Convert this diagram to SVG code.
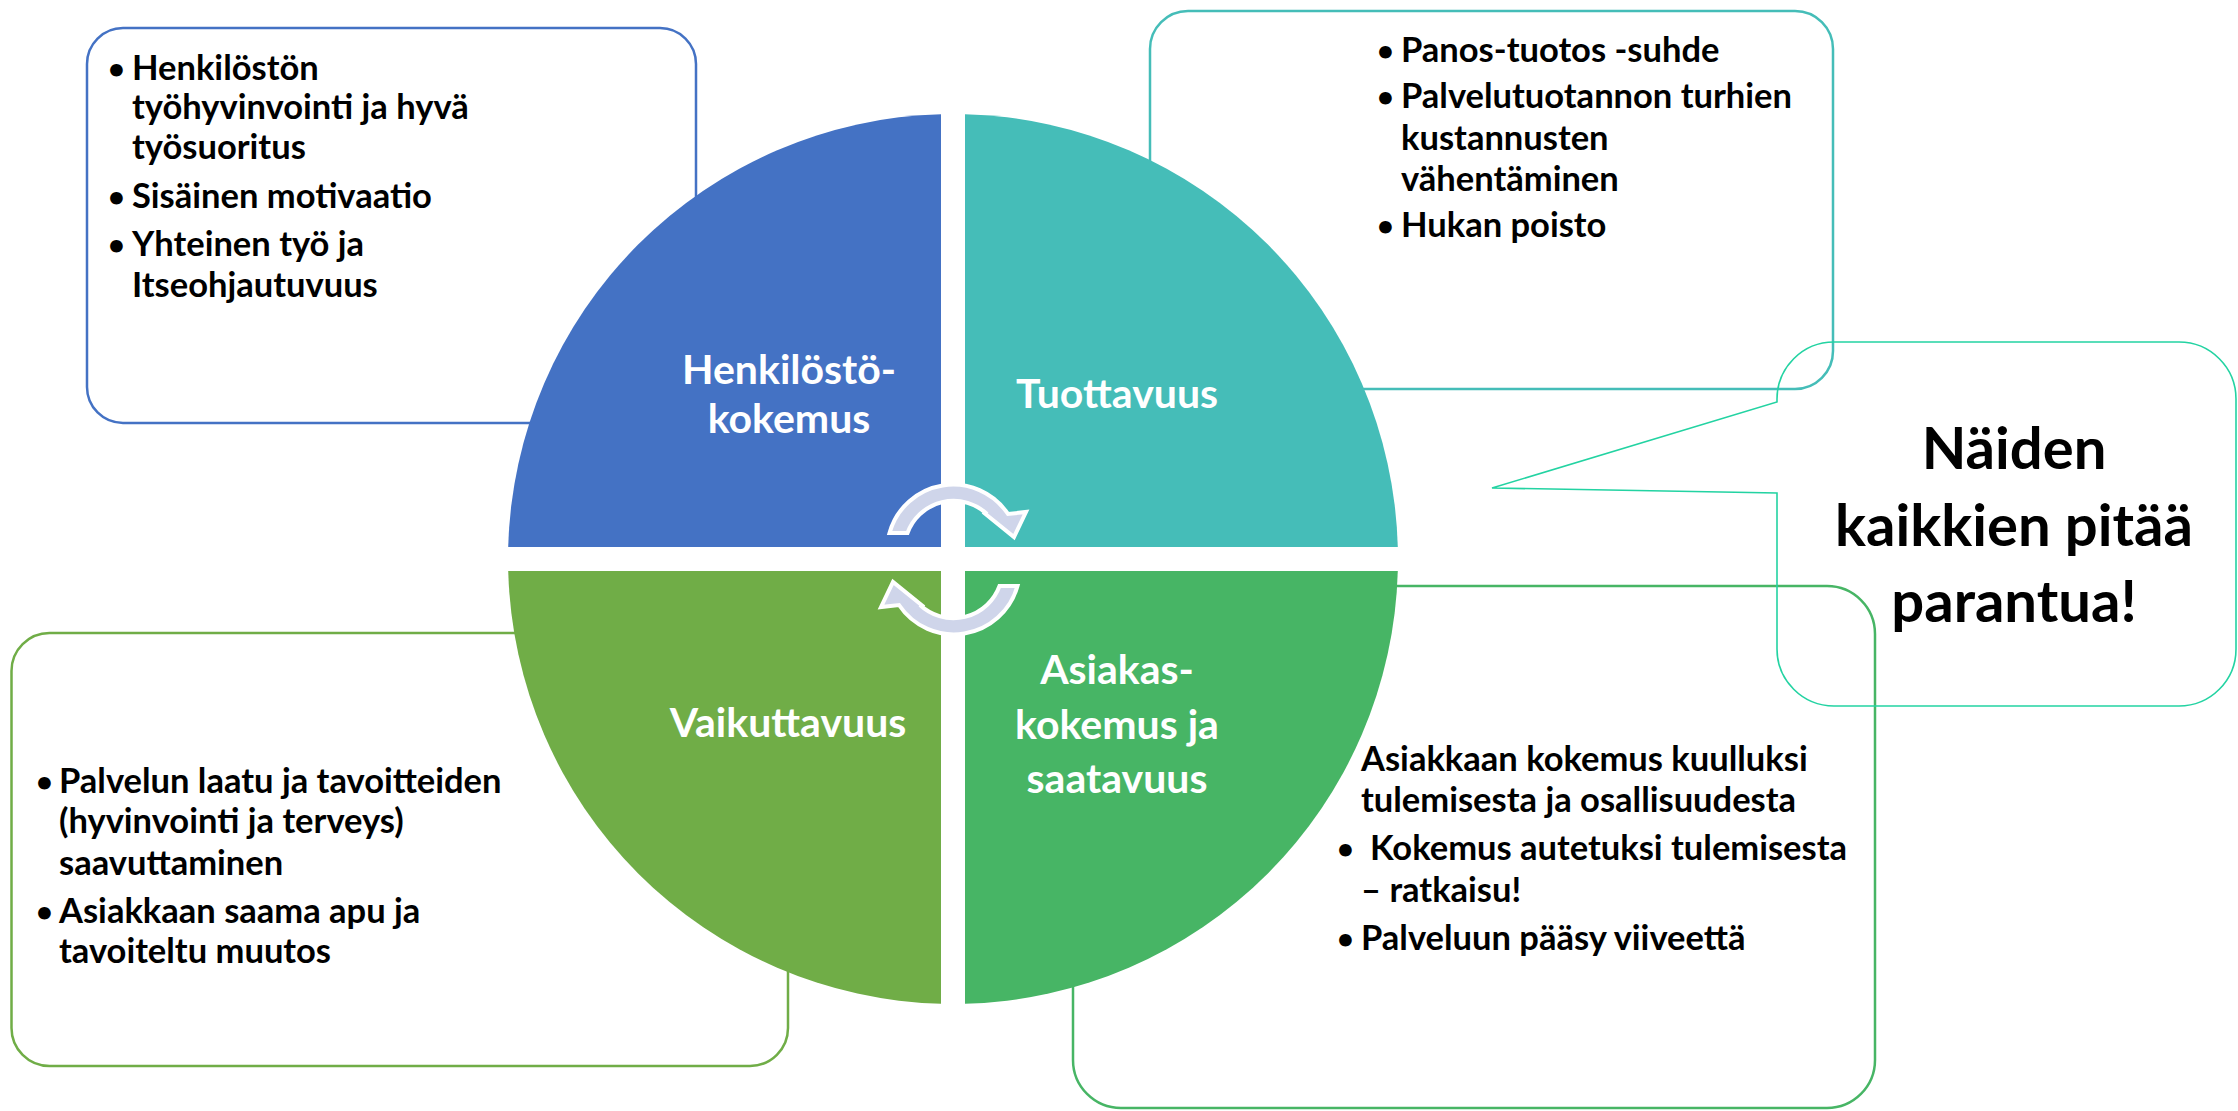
<svg xmlns="http://www.w3.org/2000/svg" width="2238" height="1111" viewBox="0 0 2238 1111">
<style>
.box{fill:none;stroke-width:2.5}
.t{font-family:Lato,"Open Sans","Noto Sans",sans-serif;font-weight:700;fill:#000}
.body{font-size:34.5px}
.b{font-size:29px}
.lbl{font-size:41px;fill:#fff;text-anchor:middle}
.big{font-size:58px;text-anchor:middle}
.arr{fill:#CFD5EA;stroke:#fff;stroke-width:4;stroke-linejoin:miter}
</style>
<rect width="2238" height="1111" fill="#fff"/>

<g id="box-henkilosto">
<rect class="box" x="87" y="28" width="609" height="395" rx="36" stroke="#4472C4"/>
</g>
<g id="box-tuottavuus">
<rect class="box" x="1150" y="11" width="683" height="378" rx="38" stroke="#45BDB8"/>
</g>
<g id="box-vaikuttavuus">
<rect class="box" x="11.5" y="633" width="776.5" height="433" rx="38" stroke="#70AD47"/>
</g>
<g id="box-asiakas">
<rect class="box" x="1073" y="586" width="802" height="522" rx="48" stroke="#47B565"/>
</g>
<g id="callout">
<path d="M1834,342 H2179 A57,57 0 0 1 2236,399 V649 A57,57 0 0 1 2179,706 H1834 A57,57 0 0 1 1777,649 V493 L1492,488 L1777,402 V399 A57,57 0 0 1 1834,342 Z" fill="none" stroke="#23D3A2" stroke-width="1.6"/>
</g>

<g id="quadrant-henkilosto">
<path d="M941,547 V114.2 A445,445 0 0 0 508.2,547 Z" fill="#4472C4"/>
</g>
<g id="quadrant-tuottavuus">
<path d="M965,547 V114.2 A445,445 0 0 1 1397.8,547 Z" fill="#45BDB8"/>
</g>
<g id="quadrant-vaikuttavuus">
<path d="M941,571 V1003.8 A445,445 0 0 1 508.2,571 Z" fill="#70AD47"/>
</g>
<g id="quadrant-asiakas">
<path d="M965,571 V1003.8 A445,445 0 0 0 1397.8,571 Z" fill="#47B565"/>
</g>

<g id="connectors">
<path id="cyc" class="arr" d="M889.5,533 A66,66 0 0 1 1008,514 L1026,512 L1014,537 L983,512 L987,514 A49,49 0 0 0 907.5,533 Z"/>
<use href="#cyc" transform="rotate(180 953.5 559.5)"/>
</g>

<g id="text-henkilosto" class="t body">
<text class="b" x="108" y="79">•</text><text x="132" y="80">Henkilöstön</text>
<text x="132" y="119">työhyvinvointi ja hyvä</text>
<text x="132" y="159">työsuoritus</text>
<text class="b" x="108" y="207">•</text><text x="132" y="208">Sisäinen motivaatio</text>
<text class="b" x="108" y="255">•</text><text x="132" y="256">Yhteinen työ ja</text>
<text x="132" y="297">Itseohjautuvuus</text>
</g>
<g id="text-tuottavuus" class="t body">
<text class="b" x="1377" y="61">•</text><text x="1401" y="62">Panos-tuotos -suhde</text>
<text class="b" x="1377" y="107">•</text><text x="1401" y="108">Palvelutuotannon turhien</text>
<text x="1401" y="150">kustannusten</text>
<text x="1401" y="191">vähentäminen</text>
<text class="b" x="1377" y="236">•</text><text x="1401" y="237">Hukan poisto</text>
</g>
<g id="text-vaikuttavuus" class="t body">
<text class="b" x="36" y="792">•</text><text x="59" y="793">Palvelun laatu ja tavoitteiden</text>
<text x="59" y="833">(hyvinvointi ja terveys)</text>
<text x="59" y="875">saavuttaminen</text>
<text class="b" x="36" y="922">•</text><text x="59" y="923">Asiakkaan saama apu ja</text>
<text x="59" y="963">tavoiteltu muutos</text>
</g>
<g id="text-asiakas" class="t body">
<text x="1361" y="771">Asiakkaan kokemus kuulluksi</text>
<text x="1361" y="812">tulemisesta ja osallisuudesta</text>
<text class="b" x="1337" y="859">•</text><text x="1370" y="860">Kokemus autetuksi tulemisesta</text>
<text x="1361" y="902">– ratkaisu!</text>
<text class="b" x="1337" y="949">•</text><text x="1361" y="950">Palveluun pääsy viiveettä</text>
</g>
<g id="text-callout" class="t big">
<text x="2014" y="469">Näiden</text>
<text x="2014" y="546">kaikkien pitää</text>
<text x="2014" y="622">parantua!</text>
</g>
<g id="labels" class="t lbl">
<text x="789" y="384">Henkilöstö-</text>
<text x="789" y="433">kokemus</text>
<text x="1117" y="408">Tuottavuus</text>
<text x="788" y="737">Vaikuttavuus</text>
<text x="1117" y="684">Asiakas-</text>
<text x="1117" y="739">kokemus ja</text>
<text x="1117" y="793">saatavuus</text>
</g>
</svg>
